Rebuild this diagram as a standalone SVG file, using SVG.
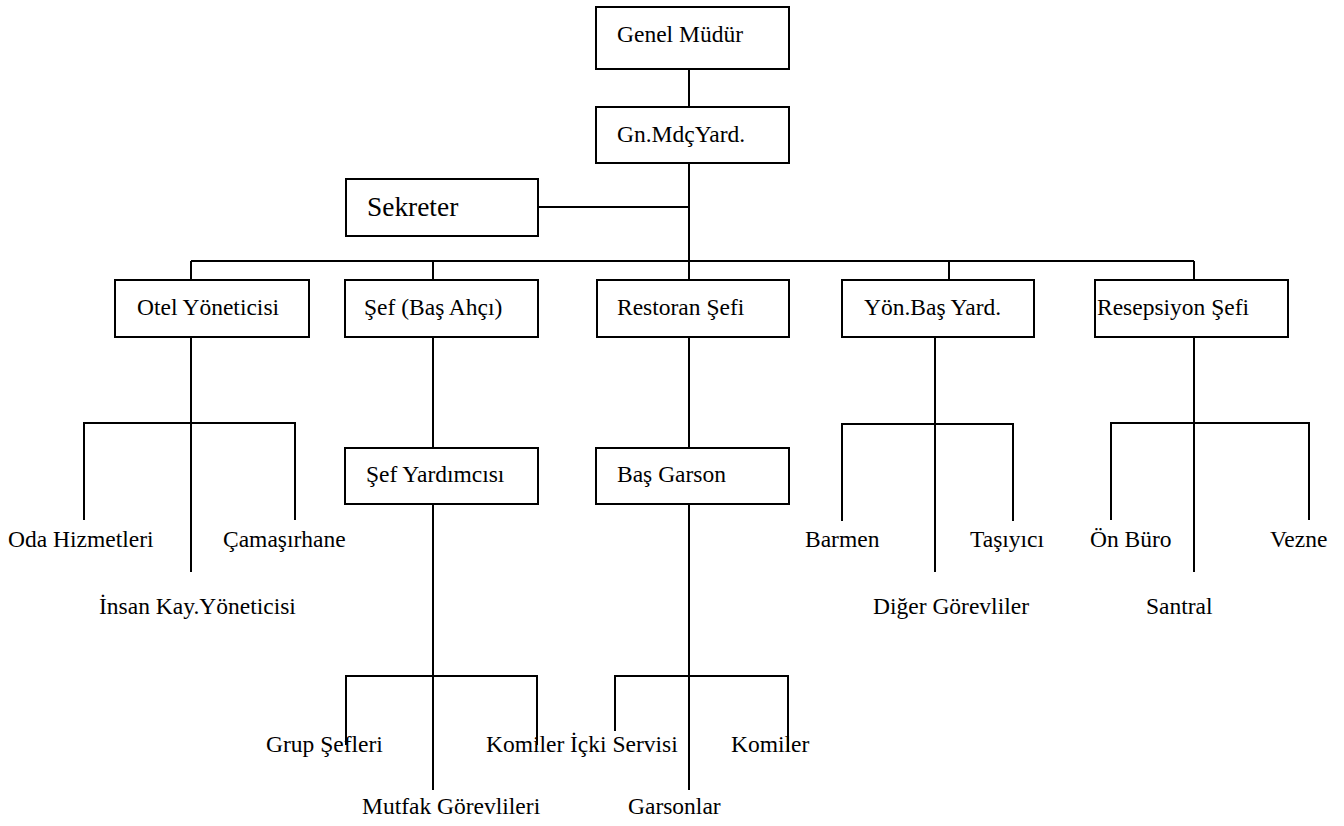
<svg xmlns="http://www.w3.org/2000/svg" width="1344" height="826" viewBox="0 0 1344 826">
  <style>
    .box { fill: #ffffff; stroke: #000000; stroke-width: 2; }
    .ln { fill: none; stroke: #000000; stroke-width: 2; }
    text { font-family: "Liberation Serif", "Times New Roman", serif; font-size: 23.5px; fill: #000000; }
    .big { font-size: 27.4px; }
  </style>
  <rect x="0" y="0" width="1344" height="826" fill="#ffffff"/>

  <!-- connectors -->
  <g id="connectors" class="ln">
    <path d="M689 69 V107"/>
    <path d="M689 163 V261"/>
    <path d="M538 207 H689"/>
    <path d="M191 261 H1194"/>
    <path d="M191 261 V280 M433 261 V280 M689 261 V280 M949 261 V280 M1194 261 V280"/>

    <!-- Otel Yöneticisi branch -->
    <path d="M191 337 V572"/>
    <path d="M84 520 V423 H295 V520"/>

    <!-- Şef (Baş Ahçı) branch -->
    <path d="M433 337 V448"/>
    <path d="M433 504 V790"/>
    <path d="M346 745 V676 H537 V745"/>

    <!-- Restoran Şefi branch -->
    <path d="M689 337 V448"/>
    <path d="M689 504 V790"/>
    <path d="M615 731 V676 H788 V752"/>

    <!-- Yön.Baş Yard. branch -->
    <path d="M935 337 V572"/>
    <path d="M842 521 V424 H1013 V521"/>

    <!-- Resepsiyon Şefi branch -->
    <path d="M1194 337 V572"/>
    <path d="M1111 520 V423 H1309 V520"/>
  </g>

  <g id="genel-mudur">
    <rect class="box" x="596" y="7" width="193" height="62"/>
    <text x="617" y="42">Genel Müdür</text>
  </g>
  <g id="gn-mdc-yard">
    <rect class="box" x="596" y="107" width="193" height="56"/>
    <text x="617" y="142">Gn.MdçYard.</text>
  </g>
  <g id="sekreter">
    <rect class="box" x="346" y="179" width="192" height="57"/>
    <text class="big" x="367" y="216">Sekreter</text>
  </g>

  <g id="otel-yoneticisi">
    <rect class="box" x="115" y="280" width="194" height="57"/>
    <text x="137" y="315">Otel Yöneticisi</text>
  </g>
  <g id="sef-bas-ahci">
    <rect class="box" x="345" y="280" width="193" height="57"/>
    <text x="364" y="315">Şef (Baş Ahçı)</text>
  </g>
  <g id="restoran-sefi">
    <rect class="box" x="597" y="280" width="192" height="57"/>
    <text x="617" y="315">Restoran Şefi</text>
  </g>
  <g id="yon-bas-yard">
    <rect class="box" x="842" y="280" width="192" height="57"/>
    <text x="864" y="315">Yön.Baş Yard.</text>
  </g>
  <g id="resepsiyon-sefi">
    <rect class="box" x="1095" y="280" width="193" height="57"/>
    <text x="1097" y="315">Resepsiyon Şefi</text>
  </g>

  <g id="sef-yardimcisi">
    <rect class="box" x="345" y="448" width="193" height="56"/>
    <text x="366" y="482">Şef Yardımcısı</text>
  </g>
  <g id="bas-garson">
    <rect class="box" x="596" y="448" width="193" height="56"/>
    <text x="617" y="482">Baş Garson</text>
  </g>

  <g id="oda-hizmetleri"><text x="8" y="547">Oda Hizmetleri</text></g>
  <g id="camasirhane"><text x="223" y="547">Çamaşırhane</text></g>
  <g id="insan-kay"><text x="99" y="614">İnsan Kay.Yöneticisi</text></g>

  <g id="barmen"><text x="805" y="547">Barmen</text></g>
  <g id="tasiyici"><text x="970" y="547">Taşıyıcı</text></g>
  <g id="diger-gorevliler"><text x="873" y="614">Diğer Görevliler</text></g>

  <g id="on-buro"><text x="1090" y="547">Ön Büro</text></g>
  <g id="vezne"><text x="1270" y="547">Vezne</text></g>
  <g id="santral"><text x="1146" y="614">Santral</text></g>

  <g id="grup-sefleri"><text x="266" y="752">Grup Şefleri</text></g>
  <g id="komiler-mutfak"><text x="486" y="752">Komiler</text></g>
  <g id="mutfak-gorevlileri"><text x="362" y="814">Mutfak Görevlileri</text></g>

  <g id="icki-servisi"><text x="570" y="752">İçki Servisi</text></g>
  <g id="komiler-servis"><text x="731" y="752">Komiler</text></g>
  <g id="garsonlar"><text x="628" y="814">Garsonlar</text></g>
</svg>
